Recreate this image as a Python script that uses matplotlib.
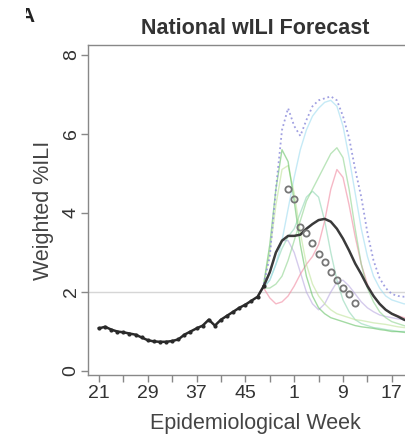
import numpy as np
import matplotlib.pyplot as plt
from matplotlib.transforms import Bbox, TransformedBbox

plt.rcParams['font.family'] = ['Liberation Sans', 'DejaVu Sans']

# season weeks 21 (2013) .. 52, then 1 .. 21 (2014); index 0 = week 21
tick_idx = list(range(0, 53, 4))
tick_labels = ['21', '', '29', '', '37', '', '45', '', '1', '', '9', '', '17', '']
baseline = 2.0

# observed wILI up to the forecast week
obs_weeks = list(range(0, 28))
obs_vals = [1.08, 1.12, 1.05, 1.00, 0.98, 0.95, 0.92, 0.85, 0.78, 0.75, 0.74, 0.74,
            0.76, 0.80, 0.92, 1.00, 1.08, 1.15, 1.30, 1.15, 1.30, 1.40, 1.50, 1.60,
            1.68, 1.78, 1.88, 2.15]

# observed values after the forecast week (open circles)
fut_weeks = list(range(31, 43))
fut_vals = [4.6, 4.35, 3.65, 3.5, 3.25, 2.95, 2.75, 2.5, 2.3, 2.1, 1.95, 1.72]

fc_weeks = list(range(27, 53))
median_fc = [2.15, 2.5, 3.0, 3.3, 3.42, 3.42, 3.45, 3.6, 3.72, 3.82, 3.85, 3.78, 3.6,
             3.35, 3.05, 2.72, 2.45, 2.15, 1.9, 1.7, 1.55, 1.45, 1.38, 1.3, 1.25, 1.2]
upper_fc = [2.2, 2.9, 4.6, 6.1, 6.65, 6.2, 5.95, 6.35, 6.7, 6.85, 6.9, 6.95, 6.85,
            6.45, 5.9, 5.1, 4.4, 3.5, 2.8, 2.35, 2.1, 1.95, 1.9, 1.88, 1.88, 1.88]

traj_green = [2.2, 3.2, 4.6, 5.6, 5.3, 4.3, 3.2, 2.4, 1.9, 1.6, 1.45, 1.35, 1.3,
              1.25, 1.2, 1.15, 1.12, 1.1, 1.08, 1.05, 1.03, 1.0, 1.0, 0.98, 0.96, 0.95]
traj_lime = [2.2, 3.0, 4.2, 5.1, 5.2, 4.5, 3.5, 2.7, 2.2, 1.9, 1.7, 1.55, 1.45,
             1.4, 1.35, 1.3, 1.28, 1.25, 1.22, 1.2, 1.18, 1.15, 1.12, 1.1, 1.1, 1.1]
traj_cyan = [2.15, 2.3, 2.7, 3.3, 4.1, 4.9, 5.6, 6.1, 6.45, 6.65, 6.8, 6.85, 6.7,
             6.2, 5.4, 4.5, 3.6, 2.9, 2.4, 2.1, 1.9, 1.8, 1.75, 1.7, 1.7, 1.7]
traj_late_green = [2.1, 2.1, 2.2, 2.4, 2.8, 3.3, 3.8, 4.3, 4.6, 4.9, 5.2, 5.5, 5.65,
                   5.4, 4.6, 3.6, 2.7, 2.1, 1.75, 1.5, 1.35, 1.25, 1.2, 1.15, 1.1, 1.1]
traj_pink = [2.1, 1.85, 1.7, 1.75, 1.9, 2.15, 2.45, 2.7, 2.9, 3.2, 3.8, 4.6, 5.1,
             4.9, 4.2, 3.4, 2.7, 2.2, 1.9, 1.7, 1.55, 1.45, 1.4, 1.35, 1.3, 1.3]
traj_teal = [2.1, 2.3, 2.7, 3.1, 3.4, 3.6, 4.0, 4.4, 4.55, 4.4, 3.8, 3.0, 2.3,
             1.8, 1.5, 1.3, 1.2, 1.15, 1.1, 1.08, 1.05, 1.03, 1.0, 1.0, 1.0, 1.0]
traj_lavender = [2.1, 2.5, 3.0, 3.3, 3.3, 3.0, 2.5, 2.0, 1.7, 1.55, 1.7, 2.0, 2.25,
                 2.3, 2.15, 1.95, 1.75, 1.6, 1.5, 1.42, 1.38, 1.35, 1.32, 1.3, 1.3, 1.3]

fig = plt.figure(figsize=(4.06, 4.37), dpi=100)
ax = fig.add_axes([88/406, 62/437, 334/406, 330/437])

ax.axhline(baseline, color='#d6d6d6', lw=1.0, zorder=1)

trajs = [(traj_lavender, '#b9a9e0'), (traj_teal, '#8fd6b4'), (traj_pink, '#f08aa0'),
         (traj_late_green, '#8fd48f'), (traj_cyan, '#9fdcf0'), (traj_lime, '#bfe39a'),
         (traj_green, '#66c266')]
for vals, col in trajs:
    ax.plot(fc_weeks, vals, color=col, lw=1.0, alpha=0.6, zorder=2)

ax.plot(fc_weeks, upper_fc, color='#8f8fdc', lw=1.3, ls=(0, (1, 1.6)), alpha=0.85,
        zorder=3)
ax.plot(fc_weeks, median_fc, color='#3a3a3a', lw=1.8, zorder=4)
ax.plot(obs_weeks, obs_vals, color='#2a2a2a', lw=1.8, marker='o', ms=2,
        zorder=5)
ax.plot(fut_weeks, fut_vals, ls='none', marker='o', ms=4.5, mfc='none',
        mec='#777777', mew=1.3, zorder=6)

ax.set_xlim(-1.8, 52.95)
ax.set_ylim(-0.1, 8.25)
ax.set_xticks(tick_idx)
ax.set_xticklabels(tick_labels)
ax.set_yticks([0, 2, 4, 6, 8])
ax.set_yticklabels(['0', '2', '4', '6', '8'], rotation=90, va='center')
ax.tick_params(colors='#888888', labelcolor='#333333', labelsize=14,
               length=5, width=1)
ax.tick_params(axis='x', pad=2)
ax.tick_params(axis='y', pad=1)
for s in ax.spines.values():
    s.set_color('#888888')
    s.set_linewidth(1)

ax.set_title('National wILI Forecast', fontsize=15.5, fontweight='bold',
             color='#333333', pad=8)
ax.set_xlabel('Epidemiological Week', fontsize=15.5, color='#444444', labelpad=8)
ax.set_ylabel('Weighted %ILI', fontsize=15.5, color='#444444', labelpad=6)

# panel letter, cut off at the left like in the source figure
t = fig.text(27/406, 1 - 16/437, 'A', ha='center', va='center', fontsize=15,
             fontweight='bold', color='#222222')
t.set_clip_on(True)
t.set_clip_box(TransformedBbox(Bbox([[26/406, 0], [1, 1]]), fig.transFigure))

fig.savefig('out.png', dpi=100)
